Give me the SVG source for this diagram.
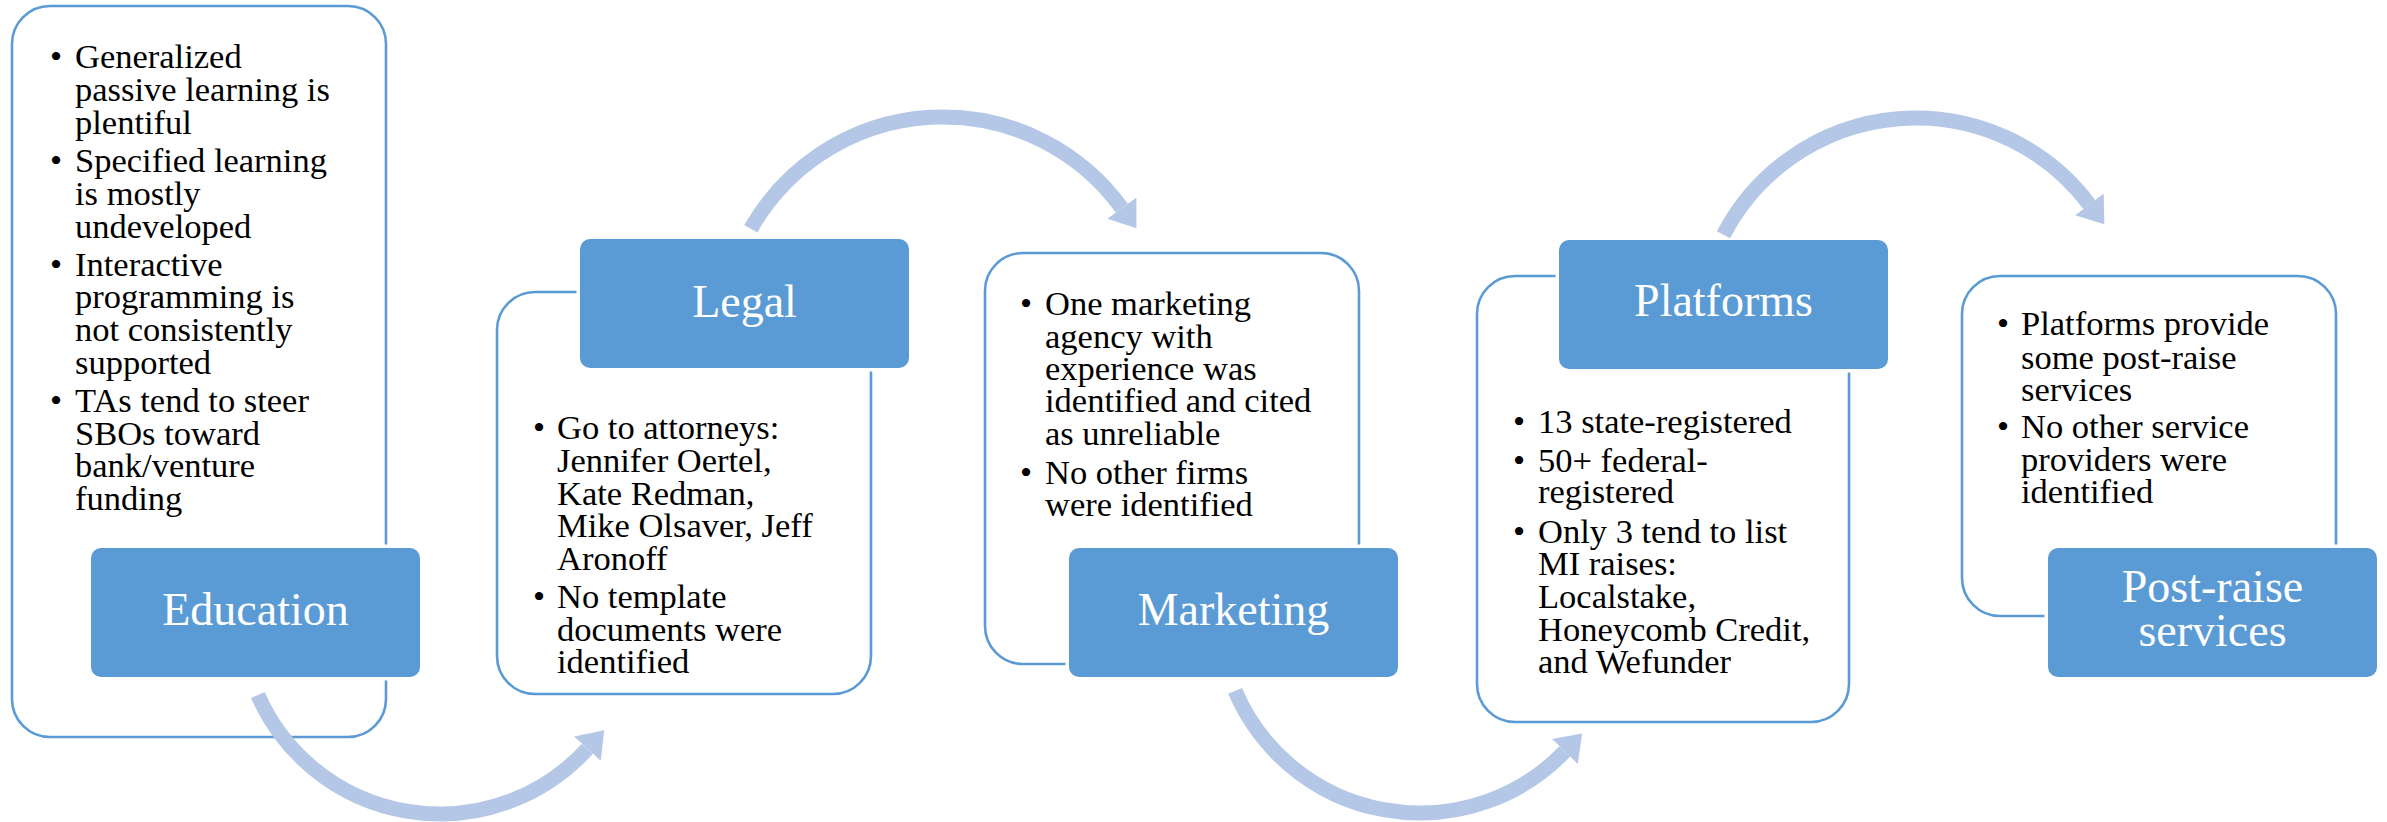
<svg xmlns="http://www.w3.org/2000/svg" width="2387" height="822" viewBox="0 0 2387 822">
<style>
.outer{fill:#fff;stroke:#5B9BD5;stroke-width:2.6}
.lab{fill:#5B9BD5;stroke:#fff;stroke-width:7;paint-order:stroke}
.lt{font-family:"Liberation Serif","Times New Roman",serif;font-size:46px;fill:#fff;text-anchor:middle}
.bt{font-family:"Liberation Serif","Times New Roman",serif;font-size:34.5px;fill:#000}
.arc{fill:none;stroke:#B4C7E7;stroke-width:15;stroke-linecap:butt}
</style>
<defs>
<marker id="head" viewBox="0 -18 25 36" refX="0" refY="0" markerWidth="25" markerHeight="36" markerUnits="userSpaceOnUse" orient="auto">
<path d="M0,-18 L25,0 L0,18 Z" fill="#B4C7E7"/>
</marker>
</defs>
<rect width="2387" height="822" fill="#fff"/>

<g id="education">
<rect class="outer" x="12" y="6" width="374" height="731" rx="38"/>
<text class="bt"><tspan x="50" y="68">•</tspan><tspan x="50" y="172">•</tspan><tspan x="50" y="276">•</tspan><tspan x="50" y="412">•</tspan></text>
<text class="bt"><tspan x="75" y="68">Generalized</tspan><tspan x="75" y="101">passive learning is</tspan><tspan x="75" y="134">plentiful</tspan><tspan x="75" y="172">Specified learning</tspan><tspan x="75" y="205">is mostly</tspan><tspan x="75" y="238">undeveloped</tspan><tspan x="75" y="276">Interactive</tspan><tspan x="75" y="308">programming is</tspan><tspan x="75" y="341">not consistently</tspan><tspan x="75" y="374">supported</tspan><tspan x="75" y="412">TAs tend to steer</tspan><tspan x="75" y="445">SBOs toward</tspan><tspan x="75" y="477">bank/venture</tspan><tspan x="75" y="510">funding</tspan></text>
<rect class="lab" x="91" y="548" width="329" height="129" rx="10"/>
<text class="lt" x="255.5" y="625">Education</text>
</g>

<g id="legal">
<rect class="outer" x="497" y="292" width="374" height="402" rx="38"/>
<text class="bt"><tspan x="533" y="439">•</tspan><tspan x="533" y="608">•</tspan></text>
<text class="bt"><tspan x="557" y="439">Go to attorneys:</tspan><tspan x="557" y="472">Jennifer Oertel,</tspan><tspan x="557" y="505">Kate Redman,</tspan><tspan x="557" y="537">Mike Olsaver, Jeff</tspan><tspan x="557" y="570">Aronoff</tspan><tspan x="557" y="608">No template</tspan><tspan x="557" y="641">documents were</tspan><tspan x="557" y="673">identified</tspan></text>
<rect class="lab" x="580" y="239" width="329" height="129" rx="10"/>
<text class="lt" x="744.5" y="317">Legal</text>
</g>

<g id="marketing">
<rect class="outer" x="985" y="253" width="374" height="411" rx="38"/>
<text class="bt"><tspan x="1020" y="315">•</tspan><tspan x="1020" y="484">•</tspan></text>
<text class="bt"><tspan x="1045" y="315">One marketing</tspan><tspan x="1045" y="348">agency with</tspan><tspan x="1045" y="380">experience was</tspan><tspan x="1045" y="412">identified and cited</tspan><tspan x="1045" y="445">as unreliable</tspan><tspan x="1045" y="484">No other firms</tspan><tspan x="1045" y="516">were identified</tspan></text>
<rect class="lab" x="1069" y="548" width="329" height="129" rx="10"/>
<text class="lt" x="1233.5" y="625">Marketing</text>
</g>

<g id="platforms">
<rect class="outer" x="1477" y="276" width="372" height="446" rx="38"/>
<text class="bt"><tspan x="1513" y="433">•</tspan><tspan x="1513" y="472">•</tspan><tspan x="1513" y="543">•</tspan></text>
<text class="bt"><tspan x="1538" y="433">13 state-registered</tspan><tspan x="1538" y="472">50+ federal-</tspan><tspan x="1538" y="503">registered</tspan><tspan x="1538" y="543">Only 3 tend to list</tspan><tspan x="1538" y="575">MI raises:</tspan><tspan x="1538" y="608">Localstake,</tspan><tspan x="1538" y="641">Honeycomb Credit,</tspan><tspan x="1538" y="673">and Wefunder</tspan></text>
<rect class="lab" x="1559" y="240" width="329" height="129" rx="10"/>
<text class="lt" x="1723.5" y="316">Platforms</text>
</g>

<g id="post-raise">
<rect class="outer" x="1962" y="276" width="374" height="340" rx="38"/>
<text class="bt"><tspan x="1997" y="335">•</tspan><tspan x="1997" y="438">•</tspan></text>
<text class="bt"><tspan x="2021" y="335">Platforms provide</tspan><tspan x="2021" y="369">some post-raise</tspan><tspan x="2021" y="401">services</tspan><tspan x="2021" y="438">No other service</tspan><tspan x="2021" y="471">providers were</tspan><tspan x="2021" y="503">identified</tspan></text>
<rect class="lab" x="2048" y="548" width="329" height="129" rx="10"/>
<text class="lt"><tspan x="2212.5" y="602">Post-raise</tspan><tspan x="2212.5" y="646">services</tspan></text>
</g>

<g id="connectors">
<path class="arc" d="M257.8,695 A199,199 0 0 0 587.4,748.7" marker-end="url(#head)"/>
<path class="arc" d="M750.8,228.8 A221,221 0 0 1 1121.8,208.1" marker-end="url(#head)"/>
<path class="arc" d="M1235.1,690.9 A201,201 0 0 0 1564.8,751.4" marker-end="url(#head)"/>
<path class="arc" d="M1723.5,234.8 A217,217 0 0 1 2089.3,204.4" marker-end="url(#head)"/>
</g>
</svg>
